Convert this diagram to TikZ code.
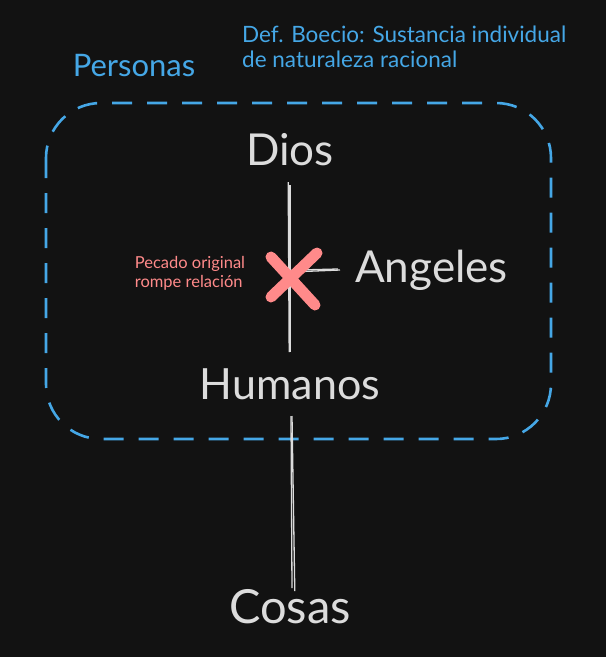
\documentclass[tikz,border=0pt]{standalone}
\usepackage{fontspec}
\setmainfont{Lato}
\definecolor{bg}{HTML}{121212}
\definecolor{ink}{HTML}{DCDCDC}
\definecolor{sky}{HTML}{45A7E6}
\definecolor{sin}{HTML}{FF8A8A}
\tikzset{
  big/.style={text=ink, font=\fontsize{44}{46}\selectfont, inner sep=0pt},
  bluetxt/.style={text=sky, inner sep=0pt},
  link/.style={draw=ink, line width=1.3pt},
  crossline/.style={draw=sin, line width=11pt, line cap=round},
  group/.style={draw=sky, line width=2.6pt, dash pattern=on 20pt off 15pt, rounded corners=55pt}
}
\begin{document}
\begin{tikzpicture}[x=1pt,y=-1pt]
\fill[bg] (0,0) rectangle (606,657);
\useasboundingbox (0,0) rectangle (606,657);
% group box
\draw[group] (46,103) rectangle (551,439);
% texts
\node[bluetxt, font=\fontsize{31}{34}\selectfont] (personas) at (134,66) {Personas};
\node[bluetxt, font=\fontsize{22.5}{25}\selectfont, align=left, anchor=north west] (def) at (242,26) {Def. Boecio: Sustancia individual\\de naturaleza racional};
\node[big] (dios) at (290,150) {Dios};
\node[big, anchor=west] (angeles) at (355,270) {Angeles};
\node[big, font=\fontsize{43}{46}\selectfont] (humanos) at (290,384) {Humanos};
\node[big, font=\fontsize{47}{50}\selectfont] (cosas) at (290,607) {Cosas};
\node[text=sin, font=\fontsize{16.5}{19}\selectfont, align=left, inner sep=0pt] (pecado) at (190,273) {Pecado original\\rompe relación};
% connectors
\coordinate (dtop) at (290,185);
\coordinate (dbot) at (290,352);
\coordinate (junc) at (290,272);
\coordinate (htop) at (291,416);
\coordinate (hbot) at (292,588);
\draw[link] (dtop) -- (dbot);
\draw[link] ([xshift=-1.8pt,yshift=3pt]dtop) -- ([xshift=-0.8pt]dbot);
\draw[link] (junc) -- ([xshift=-15pt]angeles.west);
\draw[link] ([yshift=1.8pt]junc) -- ([xshift=-17pt,yshift=1pt]angeles.west);
\draw[link] (htop) -- (hbot);
\draw[link] ([xshift=1pt]htop) -- ([xshift=2.8pt,yshift=-3pt]hbot);
% cross
\coordinate (x) at (293,279);
\draw[crossline] ([shift={(-22,-22)}]x) -- ([shift={(22,26)}]x);
\draw[crossline] ([shift={(24,-26)}]x) -- ([shift={(-22,18)}]x);
\end{tikzpicture}
\end{document}
